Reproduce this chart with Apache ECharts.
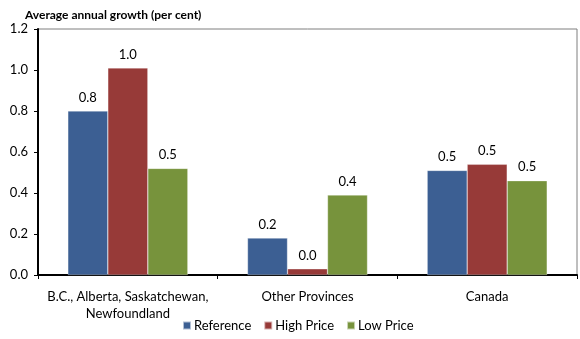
<!DOCTYPE html>
<html>
<head>
<meta charset="utf-8">
<script src="https://cdn.jsdelivr.net/npm/echarts@6/dist/echarts.min.js"></script>
<style>
  html, body { margin: 0; padding: 0; background: #fff; }
  #chart { width: 580px; height: 339px; }
</style>
</head>
<body>
<div id="chart"></div>
<script>
// Regions compared
const categories = ['B.C., Alberta, Saskatchewan,\nNewfoundland', 'Other Provinces', 'Canada'];
// Average annual growth by price scenario (per cent)
const referenceCase = [0.80, 0.18, 0.51];
const highPrice = [1.01, 0.03, 0.54];
const lowPrice = [0.52, 0.39, 0.46];
const seriesNames = ['Reference', 'High Price', 'Low Price'];
const yTicks = [0, 0.2, 0.4, 0.6, 0.8, 1.0, 1.2];

const FONT = 'Lato, "Open Sans", sans-serif';
const colors = ['#3C5F93', '#973A38', '#77933C'];

const chart = echarts.init(document.getElementById('chart'), null, { renderer: 'canvas' });

const barSeries = [referenceCase, highPrice, lowPrice].map((vals, i) => ({
  name: seriesNames[i],
  type: 'bar',
  data: vals,
  barWidth: 40,
  barGap: '0%',
  itemStyle: { color: colors[i], borderColor: 'rgba(255,255,255,0.6)', borderWidth: 0.5 },
  label: {
    show: true,
    position: 'top',
    distance: 7,
    color: '#000',
    fontFamily: FONT,
    fontSize: 13,
    formatter: p => p.value.toFixed(1)
  }
}));

chart.setOption({
  animation: false,
  color: colors,
  title: {
    text: 'Average annual growth (per cent)',
    left: 20,
    top: 4,
    textStyle: { fontFamily: FONT, fontSize: 12, fontWeight: 'bold', color: '#000' }
  },
  grid: {
    left: 38, right: 3, top: 29, bottom: 64,
    show: true,
    borderColor: '#7f7f7f',
    borderWidth: 1
  },
  legend: {
    bottom: 2,
    left: 177,
    itemWidth: 8,
    itemHeight: 8,
    itemGap: 12,
    icon: 'rect',
    textStyle: { fontFamily: FONT, fontSize: 13, color: '#000', padding: [0, 0, 0, -2] },
    data: seriesNames
  },
  xAxis: {
    type: 'category',
    data: categories,
    axisLine: { lineStyle: { color: '#000', width: 2 } },
    axisTick: { show: true, length: 4, inside: false, lineStyle: { color: '#000' } },
    axisLabel: { interval: 0, fontFamily: FONT, fontSize: 13, color: '#000', margin: 13, lineHeight: 17 }
  },
  yAxis: {
    type: 'value',
    min: yTicks[0],
    max: yTicks[yTicks.length - 1],
    interval: 0.2,
    axisLine: { show: true, lineStyle: { color: '#000', width: 2 } },
    axisTick: { show: true, length: 4, lineStyle: { color: '#000' } },
    splitLine: { show: false },
    axisLabel: {
      fontFamily: FONT, fontSize: 13, color: '#000', margin: 10,
      formatter: v => v.toFixed(1)
    }
  },
  series: barSeries
});
</script>
</body>
</html>
